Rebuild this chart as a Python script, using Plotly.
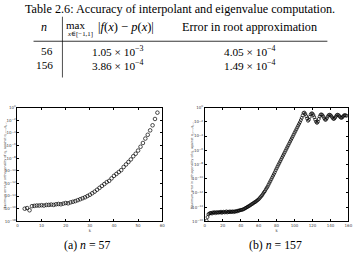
import plotly.graph_objects as go

W, H = 359, 255

# ---------------- data ----------------
table_n = ["56", "156"]
table_max_err = ["1.05 × 10<sup>−3</sup>", "3.86 × 10<sup>−4</sup>"]
table_root_err = ["4.05 × 10<sup>−4</sup>", "1.49 × 10<sup>−4</sup>"]

# left panel (n = 57): k and log10 of max orthogonality error
k_a = list(range(3, 59))
log_err_a = [
    -16.0, -15.9, -16.25, -15.6, -15.55, -15.5, -15.5, -15.45, -15.5, -15.4,
    -15.4, -15.35, -15.4, -15.3, -15.25, -15.3, -15.2, -15.1, -15.15, -15.0,
    -14.9, -14.8, -14.65, -14.5, -14.35, -14.2, -14.0, -13.8, -13.55, -13.3,
    -13.0, -12.7, -12.4, -12.1, -11.8, -11.6, -11.2, -10.8, -10.5, -10.2,
    -9.9, -9.4, -9.0, -8.6, -8.2, -7.7, -7.3, -6.8, -6.2, -5.6,
    -4.9, -4.3, -3.6, -2.8, -1.8, -0.8,
]

# right panel (n = 157)
k_b = list(range(2, 159))
log_err_b = [
    -15.9, -15.4, -15.0, -14.9,
    -14.85, -14.8, -14.9, -14.75, -14.8, -14.7, -14.85, -14.75, -14.7, -14.8,
    -14.7, -14.75, -14.65, -14.8, -14.7, -14.65, -14.75, -14.7, -14.6, -14.75,
    -14.65, -14.7, -14.6, -14.7, -14.65, -14.6, -14.7, -14.6, -14.65, -14.55,
    -14.6, -14.5, -14.5, -14.45, -14.4,
    -14.4, -14.35, -14.3, -14.25, -14.15, -14.1, -14.0, -13.95, -13.85, -13.8,
    -13.7, -13.6, -13.55, -13.45, -13.35, -13.3, -13.2, -13.1, -13.0, -12.9,
    -12.75, -12.6, -12.45, -12.3, -12.1, -11.9, -11.75, -11.5, -11.3, -11.1,
    -10.85, -10.6, -10.35, -10.1, -9.85, -9.6, -9.35, -9.1, -8.8, -8.55,
    -8.3, -8.05, -7.8, -7.55, -7.3, -7.05, -6.8, -6.55, -6.3, -6.05,
    -5.8, -5.55, -5.3, -5.05, -4.8, -4.55, -4.3, -4.05, -3.8, -3.55,
    -3.3, -3.05, -2.8, -2.55, -2.3, -2.05, -1.75, -1.45, -1.1, -0.75,
    -0.7, -0.9, -1.2, -1.55, -1.85, -1.7, -1.3, -0.95, -0.8, -0.85,
    -1.05, -1.35, -1.7, -2.0, -2.15, -2.0, -1.6, -1.25, -1.0, -0.95,
    -1.05, -1.25, -1.5, -1.7, -1.7, -1.5, -1.25, -1.05, -1.0, -1.05,
    -1.2, -1.4, -1.55, -1.6, -1.45, -1.25, -1.05, -1.0, -1.05, -1.2,
    -1.35, -1.45, -1.4, -1.25, -1.1, -1.05, -1.1, -1.15,
]

err_a = [10 ** e for e in log_err_a]
err_b = [10 ** e for e in log_err_b]

ytick_exp_a = list(range(0, -19, -2))
ytick_exp_b = list(range(0, -17, -2))
xtick_a = [0, 10, 20, 30, 40, 50, 60]
xtick_b = [0, 20, 40, 60, 80, 100, 120, 140, 160]

captions = ["(a) <i>n</i> = 57", "(b) <i>n</i> = 157"]
ylabel = "Maximum error in orthogonality of q<sub>k</sub> against q<sub>1</sub>,...,q<sub>k−1</sub>"

# ---------------- helpers ----------------
def px(x):
    return x / W

def py(y):
    return 1 - y / H

SERIF = "Liberation Serif, DejaVu Serif, serif"
TXT = dict(family=SERIF, size=11, color="black")

fig = go.Figure()

marker = dict(symbol="circle-open", size=3.6, color="black", line=dict(width=0.7, color="black"))
fig.add_trace(go.Scatter(x=k_a, y=err_a, mode="markers", marker=marker, xaxis="x", yaxis="y",
                         showlegend=False, hoverinfo="skip"))
fig.add_trace(go.Scatter(x=k_b, y=err_b, mode="markers", marker=dict(marker, size=3.0), xaxis="x2", yaxis="y2",
                         showlegend=False, hoverinfo="skip"))

tickfont = dict(family="DejaVu Sans, sans-serif", size=4, color="#444")
common_axis = dict(showline=True, linecolor="black", linewidth=0.8, mirror="ticks",
                   ticks="inside", ticklen=2, tickwidth=0.6, tickcolor="black",
                   showgrid=False, zeroline=False, tickfont=tickfont)

xa_dom = [px(16.7), px(163.5)]
xb_dom = [px(206.7), px(352.3)]
y_dom = [py(222.7), py(106.7)]

fig.update_layout(
    width=W, height=H,
    margin=dict(l=0, r=0, t=0, b=0),
    paper_bgcolor="white", plot_bgcolor="white",
    xaxis=dict(common_axis, domain=xa_dom, range=[0, 60], tickvals=xtick_a, anchor="y",
               title=dict(text="k", font=dict(tickfont, size=4), standoff=1)),
    yaxis=dict(common_axis, domain=y_dom, type="log", range=[-18, 0], anchor="x",
               tickvals=[10 ** e for e in ytick_exp_a],
               ticktext=["10<sup>%d</sup>" % e if e == 0 else "10<sup>−%d</sup>" % (-e) for e in ytick_exp_a]),
    xaxis2=dict(common_axis, domain=xb_dom, range=[0, 160], tickvals=xtick_b, anchor="y2",
                title=dict(text="k", font=dict(tickfont, size=4), standoff=1)),
    yaxis2=dict(common_axis, domain=y_dom, type="log", range=[-16, 0], anchor="x2",
                tickvals=[10 ** e for e in ytick_exp_b],
                ticktext=["10<sup>%d</sup>" % e if e == 0 else "10<sup>−%d</sup>" % (-e) for e in ytick_exp_b]),
)

ann = []
def text(x, y, s, size=11, xanchor="center", font=None):
    f = dict(TXT, size=size) if font is None else font
    ann.append(dict(x=px(x), y=py(y), xref="paper", yref="paper", text=s, showarrow=False,
                    xanchor=xanchor, yanchor="middle", font=f))

# table
text(181.5, 6.5, "Table 2.6: Accuracy of interpolant and eigenvalue computation.", size=12.2)
text(44, 24, "<i>n</i>", size=12)
text(75.5, 22.5, "max", size=11)
text(80, 32, "<i>x</i>∈[−1,1]", size=6.8)
text(127, 24, "|<i>f</i>(<i>x</i>) − <i>p</i>(<i>x</i>)|", size=12.5)
text(252.5, 24, "Error in root approximation", size=12.2)
rows_y = [49.0, 62.8]
for i in range(len(table_n)):
    text(54.5, rows_y[i], table_n[i], size=11.3, xanchor="right")
    text(118.5, rows_y[i], table_max_err[i], size=11.3)
    text(252.5, rows_y[i], table_root_err[i], size=11.3)

# y-axis titles
for xpos in (5.0, 194.5):
    ann.append(dict(x=px(xpos), y=py(164.7), xref="paper", yref="paper", text=ylabel, showarrow=False,
                    textangle=-90, xanchor="center", yanchor="middle",
                    font=dict(family="DejaVu Sans, sans-serif", size=3.2, color="#444")))

# captions
text(87.5, 247, captions[0], size=11.8)
text(278, 247, captions[1], size=11.8)

fig.update_layout(annotations=ann)

shapes = [
    dict(type="line", xref="paper", yref="paper", x0=px(33), x1=px(331), y0=py(39), y1=py(39),
         line=dict(color="black", width=0.8)),
    dict(type="line", xref="paper", yref="paper", x0=px(62.3), x1=px(62.3), y0=py(14), y1=py(76),
         line=dict(color="black", width=0.7)),
]
fig.update_layout(shapes=shapes)

fig.write_html("out.html")
